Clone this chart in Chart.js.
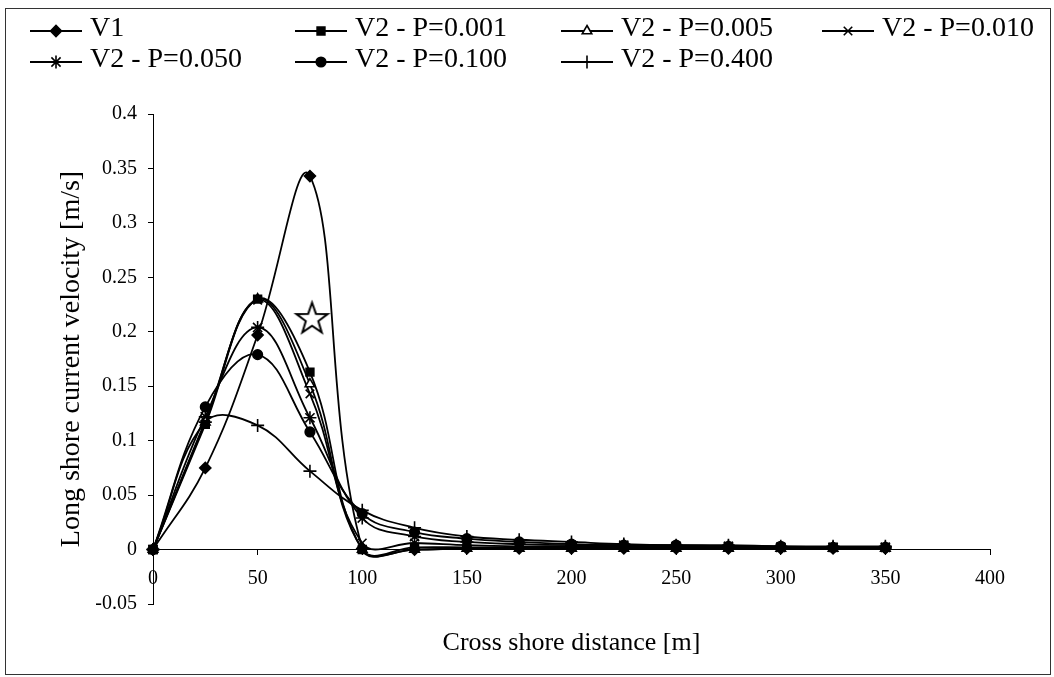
<!DOCTYPE html>
<html>
<head>
<meta charset="utf-8">
<script src="https://cdn.jsdelivr.net/npm/chart.js@4.4.1/dist/chart.umd.min.js"></script>
<style>
  html, body { margin: 0; padding: 0; background: #fff; }
  #wrap { width: 1054px; height: 677px; }
</style>
</head>
<body>
<div id="wrap"><canvas id="chart" width="1054" height="677"></canvas></div>
<script>
// valores (distância em m, velocidade em m/s)
const distancias = [0, 25, 50, 75, 100, 125, 150, 175, 200, 225, 250, 275, 300, 325, 350];
const v1      = [0, 0.075, 0.197, 0.343, 0.001, 0, 0.001, 0.001, 0.001, 0.001, 0.001, 0.001, 0.001, 0.001, 0.001];
const pP001   = [0, 0.115, 0.230, 0.163, 0.000, 0.002, 0.002, 0.002, 0.002, 0.002, 0.002, 0.002, 0.002, 0.002, 0.002];
const pP005   = [0, 0.117, 0.230, 0.152, 0.000, 0.000, 0.001, 0.001, 0.001, 0.001, 0.001, 0.001, 0.001, 0.001, 0.001];
const pP010   = [0, 0.118, 0.229, 0.143, 0.006, 0.006, 0.004, 0.003, 0.003, 0.003, 0.003, 0.003, 0.002, 0.002, 0.002];
const pP050   = [0, 0.122, 0.204, 0.121, 0.029, 0.012, 0.007, 0.005, 0.004, 0.004, 0.003, 0.003, 0.002, 0.002, 0.002];
const pP100   = [0, 0.131, 0.179, 0.108, 0.033, 0.016, 0.010, 0.007, 0.005, 0.004, 0.004, 0.003, 0.003, 0.002, 0.002];
const pP400   = [0, 0.117, 0.114, 0.072, 0.036, 0.020, 0.012, 0.009, 0.007, 0.005, 0.004, 0.004, 0.003, 0.003, 0.003];
const estrelaX = [76];
const estrelaY = [0.213];

const nomesSeries = ['V1', 'V2 - P=0.001', 'V2 - P=0.005', 'V2 - P=0.010', 'V2 - P=0.050', 'V2 - P=0.100', 'V2 - P=0.400'];
const ticksX = [0, 50, 100, 150, 200, 250, 300, 350, 400];
const ticksY = [-0.05, 0, 0.05, 0.1, 0.15, 0.2, 0.25, 0.3, 0.35, 0.4];
const rotulosY = ['-0.05', '0', '0.05', '0.1', '0.15', '0.2', '0.25', '0.3', '0.35', '0.4'];

const FONTE = "'Liberation Serif', 'Times New Roman', serif";

// marcadores no estilo Excel
const marcadores = [
  { estilo: 'rectRot',  raio: 5.5, fundo: '#000' },
  { estilo: 'rect',     raio: 5.5, fundo: '#000' },
  { estilo: 'triangle', raio: 5.5, fundo: '#fff' },
  { estilo: 'crossRot', raio: 6,   fundo: '#000' },
  { estilo: 'star',     raio: 6.5, fundo: '#000' },
  { estilo: 'circle',   raio: 4.8, fundo: '#000' },
  { estilo: 'cross',    raio: 6.5, fundo: '#000' }
];

function imagemEstrela(r) {
  const c = document.createElement('canvas');
  const s = Math.ceil(2 * r + 6);
  c.width = c.height = s;
  const g = c.getContext('2d');
  g.translate(s / 2, s / 2 + 1.5);
  g.beginPath();
  for (let k = 0; k < 10; k++) {
    const rr = k % 2 ? r * 0.4 : r;
    const a = -Math.PI / 2 + k * Math.PI / 5;
    g.lineTo(rr * Math.cos(a), rr * Math.sin(a));
  }
  g.closePath();
  g.fillStyle = '#fff';
  g.fill();
  g.lineWidth = 2;
  g.strokeStyle = '#000';
  g.stroke();
  return c;
}

const pontos = ys => distancias.map((d, i) => ({ x: d, y: ys[i] }));
const todasSeries = [v1, pP001, pP005, pP010, pP050, pP100, pP400];

const datasets = todasSeries.map((ys, i) => ({
  label: nomesSeries[i],
  data: pontos(ys),
  borderColor: '#000',
  borderWidth: 1.8,
  tension: 0.4,
  pointStyle: marcadores[i].estilo,
  pointRadius: marcadores[i].raio,
  pointBackgroundColor: marcadores[i].fundo,
  pointBorderColor: '#000',
  pointBorderWidth: 1.6,
  clip: false
}));

datasets.push({
  label: 'estrela',
  naLegenda: false,
  data: estrelaX.map((x, i) => ({ x: x, y: estrelaY[i] })),
  showLine: false,
  pointStyle: imagemEstrela(16.5),
  pointRadius: 17,
  clip: false
});

// legenda em grade (4 colunas) como no original
const colunasLegenda = [30, 295, 561, 822];
const linhasLegenda = [31, 62];
const legendaGrade = {
  id: 'legendaGrade',
  afterDraw(chart) {
    const ctx = chart.ctx;
    chart.data.datasets.forEach((ds, i) => {
      if (ds.naLegenda === false) return;
      const x0 = colunasLegenda[i % 4];
      const y = linhasLegenda[Math.floor(i / 4)];
      ctx.save();
      ctx.strokeStyle = '#000';
      ctx.lineWidth = 1.8;
      ctx.beginPath();
      ctx.moveTo(x0, y);
      ctx.lineTo(x0 + 52, y);
      ctx.stroke();
      ctx.fillStyle = ds.pointBackgroundColor;
      ctx.lineWidth = ds.pointBorderWidth;
      if (Chart.helpers && Chart.helpers.drawPoint) {
        Chart.helpers.drawPoint(ctx, { pointStyle: ds.pointStyle, radius: ds.pointRadius, borderWidth: ds.pointBorderWidth, rotation: 0 }, x0 + 26, y);
      }
      ctx.fillStyle = '#000';
      ctx.font = '28px ' + FONTE;
      ctx.textBaseline = 'middle';
      ctx.textAlign = 'left';
      ctx.fillText(ds.label, x0 + 60, y - 2);
      ctx.restore();
    });
  }
};

const moldura = {
  id: 'moldura',
  beforeDraw(chart) {
    const ctx = chart.ctx;
    ctx.save();
    ctx.fillStyle = '#fff';
    ctx.fillRect(0, 0, chart.width, chart.height);
    ctx.strokeStyle = '#333';
    ctx.lineWidth = 1;
    ctx.strokeRect(5.5, 8.5, 1045, 666);
    ctx.restore();
  }
};

new Chart(document.getElementById('chart'), {
  type: 'line',
  data: { datasets: datasets },
  options: {
    responsive: false,
    animation: false,
    devicePixelRatio: 1,
    layout: { padding: { top: 114, right: 64, bottom: 0, left: 0 } },
    plugins: { legend: { display: false }, tooltip: { enabled: false } },
    scales: {
      x: {
        type: 'linear',
        min: 0, max: 400,
        position: { y: 0 },
        afterBuildTicks: s => { s.ticks = ticksX.map(v => ({ value: v })); },
        ticks: { font: { family: FONTE, size: 20 }, color: '#000', padding: 12, maxRotation: 0, autoSkip: false },
        grid: { drawOnChartArea: false, tickLength: 5, color: '#000' },
        border: { color: '#000', width: 1 }
      },
      xt: {
        type: 'linear',
        position: 'bottom',
        ticks: { display: false },
        grid: { display: false, drawTicks: false },
        border: { display: false },
        title: { display: true, text: 'Cross shore distance [m]', color: '#000', font: { family: FONTE, size: 26 }, padding: { top: 23, bottom: 18 } },
        afterFit: s => { s.height = 73; }
      },
      y: {
        type: 'linear',
        min: -0.05, max: 0.4,
        position: 'left',
        afterBuildTicks: s => { s.ticks = ticksY.map(v => ({ value: v })); },
        ticks: {
          font: { family: FONTE, size: 20 }, color: '#000', padding: 11,
          callback: (v) => rotulosY[ticksY.indexOf(v)]
        },
        grid: { drawOnChartArea: false, tickLength: 5, color: '#000' },
        border: { color: '#000', width: 1 },
        title: { display: true, text: 'Long shore current velocity [m/s]', color: '#000', font: { family: FONTE, size: 28 }, padding: { top: 55, bottom: 0 } },
        afterFit: s => { s.width = 153; }
      }
    }
  },
  plugins: [moldura, legendaGrade]
});
</script>
</body>
</html>
